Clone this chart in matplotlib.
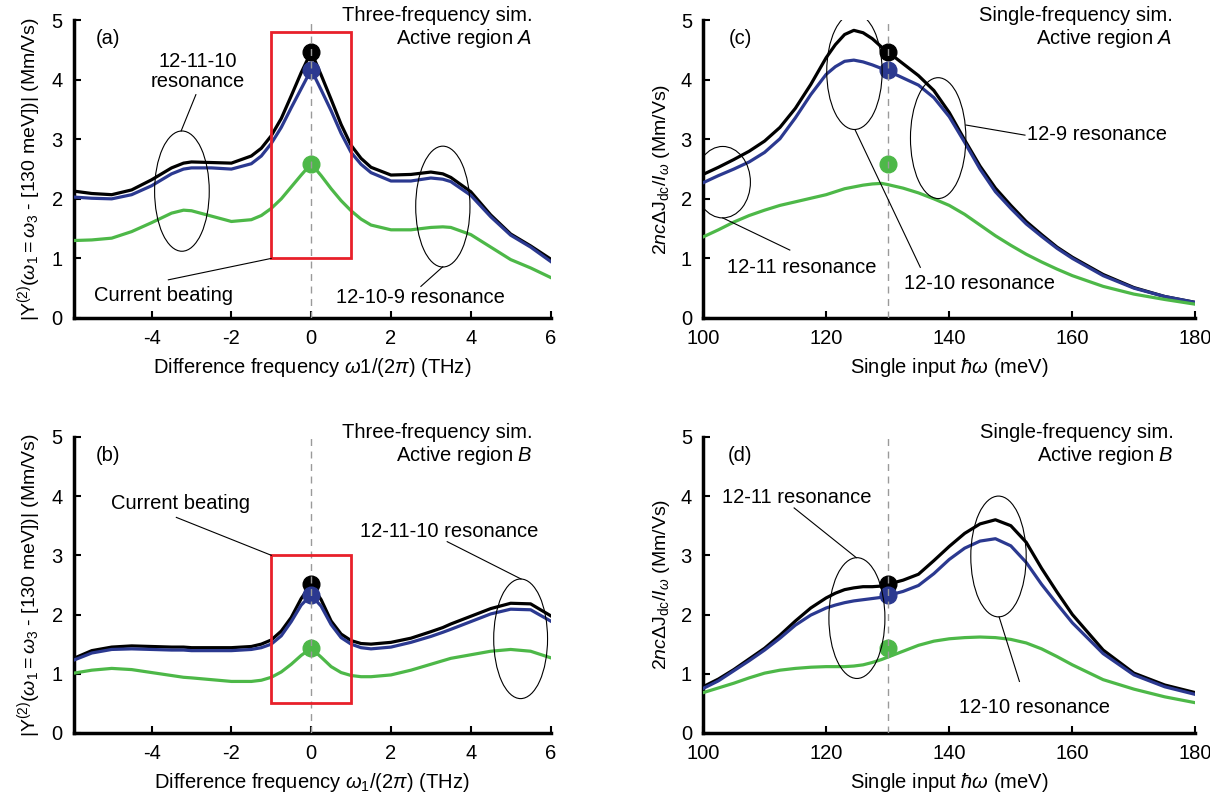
import matplotlib
matplotlib.use('Agg')
import matplotlib.pyplot as plt
from matplotlib.patches import Ellipse, Rectangle

plt.rcParams['font.family'] = ['Liberation Sans', 'DejaVu Sans']
plt.rcParams['mathtext.fontset'] = 'custom'
plt.rcParams['mathtext.rm'] = 'Liberation Sans'
plt.rcParams['mathtext.it'] = 'Liberation Sans:italic'
plt.rcParams['mathtext.bf'] = 'Liberation Sans:bold'
plt.rcParams['axes.unicode_minus'] = False

FS = 14.5

#difference frequency grid (THz), panels (a) and (b)
freq = [-5.95, -5.5, -5, -4.5, -4, -3.5, -3.2, -3, -2.5, -2, -1.5, -1.25, -1,
        -0.75, -0.5, -0.25, 0, 0.25, 0.5, 0.75, 1, 1.25, 1.5, 2, 2.5, 3, 3.3,
        3.5, 4, 4.5, 5, 5.5, 6]

a_black = [2.13, 2.09, 2.07, 2.15, 2.32, 2.52, 2.60, 2.62, 2.61, 2.60, 2.72, 2.85, 3.06,
           3.35, 3.73, 4.12, 4.47, 4.08, 3.67, 3.25, 2.90, 2.68, 2.53, 2.40, 2.41, 2.45, 2.42,
           2.36, 2.12, 1.73, 1.41, 1.21, 0.99]
a_blue = [2.03, 2.01, 2.00, 2.07, 2.22, 2.42, 2.50, 2.52, 2.52, 2.50, 2.59, 2.72, 2.93,
          3.20, 3.53, 3.85, 4.17, 3.83, 3.48, 3.10, 2.78, 2.58, 2.44, 2.30, 2.30, 2.35, 2.33,
          2.29, 2.06, 1.70, 1.39, 1.19, 0.95]
a_green = [1.30, 1.31, 1.34, 1.45, 1.60, 1.76, 1.81, 1.80, 1.71, 1.62, 1.65, 1.72, 1.84,
           2.00, 2.20, 2.40, 2.59, 2.39, 2.17, 1.97, 1.80, 1.66, 1.56, 1.48, 1.48, 1.52, 1.53,
           1.52, 1.40, 1.19, 0.98, 0.84, 0.68]

b_black = [1.26, 1.39, 1.45, 1.47, 1.46, 1.45, 1.45, 1.44, 1.44, 1.44, 1.46, 1.50, 1.57,
           1.72, 1.95, 2.27, 2.51, 2.25, 1.89, 1.67, 1.56, 1.51, 1.50, 1.53, 1.60, 1.71, 1.78,
           1.84, 1.97, 2.10, 2.19, 2.18, 1.98]
b_blue = [1.23, 1.35, 1.41, 1.42, 1.41, 1.40, 1.40, 1.39, 1.39, 1.39, 1.41, 1.44, 1.50,
          1.64, 1.88, 2.16, 2.33, 2.14, 1.83, 1.61, 1.50, 1.44, 1.42, 1.45, 1.53, 1.63, 1.70,
          1.75, 1.88, 2.01, 2.09, 2.08, 1.89]
b_green = [1.01, 1.06, 1.09, 1.07, 1.02, 0.97, 0.94, 0.93, 0.90, 0.87, 0.87, 0.89, 0.94,
           1.03, 1.16, 1.31, 1.43, 1.28, 1.12, 1.02, 0.97, 0.95, 0.95, 0.98, 1.06, 1.16, 1.22,
           1.26, 1.32, 1.38, 1.41, 1.38, 1.27]

#single input photon energy grid (meV), panels (c) and (d)
energy = [100, 102.5, 105, 107.5, 110, 112.5, 115, 117.5, 120, 121.5, 123, 124.5, 126,
          127.5, 129, 130, 132.5, 135, 137.5, 140, 142.5, 145, 147.5, 150, 152.5, 155,
          157.5, 160, 165, 170, 175, 180]

c_black = [2.41, 2.53, 2.66, 2.80, 2.97, 3.20, 3.52, 3.92, 4.37, 4.59, 4.76, 4.83, 4.79,
           4.69, 4.55, 4.47, 4.27, 4.07, 3.82, 3.45, 2.99, 2.55, 2.18, 1.89, 1.62, 1.40,
           1.19, 1.02, 0.73, 0.51, 0.36, 0.26]
c_blue = [2.27, 2.39, 2.50, 2.62, 2.78, 3.01, 3.36, 3.75, 4.09, 4.22, 4.31, 4.33, 4.30,
          4.25, 4.19, 4.15, 4.03, 3.91, 3.70, 3.38, 2.95, 2.50, 2.12, 1.84, 1.58, 1.37,
          1.17, 1.00, 0.71, 0.50, 0.36, 0.26]
c_green = [1.36, 1.48, 1.61, 1.72, 1.81, 1.89, 1.95, 2.01, 2.07, 2.12, 2.17, 2.20, 2.23,
           2.25, 2.26, 2.24, 2.18, 2.10, 2.00, 1.89, 1.74, 1.56, 1.38, 1.22, 1.07, 0.94,
           0.82, 0.71, 0.53, 0.40, 0.31, 0.23]

d_black = [0.78, 0.91, 1.07, 1.25, 1.43, 1.65, 1.89, 2.11, 2.28, 2.36, 2.42, 2.45, 2.47,
           2.47, 2.48, 2.51, 2.58, 2.68, 2.91, 3.15, 3.37, 3.53, 3.60, 3.50, 3.22, 2.78,
           2.38, 2.00, 1.40, 1.01, 0.81, 0.68]
d_blue = [0.75, 0.88, 1.05, 1.22, 1.40, 1.60, 1.82, 1.99, 2.11, 2.16, 2.20, 2.23, 2.25,
          2.27, 2.29, 2.32, 2.39, 2.49, 2.69, 2.93, 3.12, 3.24, 3.28, 3.16, 2.88, 2.51,
          2.18, 1.86, 1.34, 0.98, 0.78, 0.65]
d_green = [0.68, 0.76, 0.84, 0.93, 1.01, 1.06, 1.09, 1.11, 1.12, 1.12, 1.12, 1.13, 1.15,
           1.19, 1.24, 1.28, 1.38, 1.48, 1.55, 1.59, 1.61, 1.62, 1.61, 1.58, 1.52, 1.42,
           1.29, 1.15, 0.90, 0.74, 0.61, 0.51]

#three-frequency values at the 130 meV point (black, blue, green)
dots_A = [4.47, 4.17, 2.59]
dots_B = [2.51, 2.33, 1.43]

colors = ['black', '#2b3990', '#4db848']


def style_axis(ax, xlim, xticks):
    ax.set_xlim(xlim)
    ax.set_ylim(0, 5)
    ax.set_xticks(xticks)
    ax.set_yticks([0, 1, 2, 3, 4, 5])
    ax.spines['top'].set_visible(False)
    ax.spines['right'].set_visible(False)
    ax.spines['left'].set_linewidth(2.5)
    ax.spines['bottom'].set_linewidth(2.5)
    ax.tick_params(direction='in', length=5, width=1.5, labelsize=FS, pad=8)


def draw_curves(ax, x, ys, x0, dots):
    for y, c in zip(ys, colors):
        ax.plot(x, y, color=c, lw=2.3, zorder=3, solid_joinstyle='round')
    for v, c in zip(dots, colors):
        ax.plot(x0, v, 'o', color=c, ms=12, zorder=4)
    ax.axvline(x0, color='#9a9a9a', lw=1, ls=(0, (5, 4)), zorder=5)


def ellipse(ax, xy, w, h):
    ax.add_patch(Ellipse(xy, w, h, fill=False, ec='black', lw=0.8, zorder=6))


def leader(ax, p0, p1):
    ax.plot([p0[0], p1[0]], [p0[1], p1[1]], color='black', lw=0.8, zorder=6)


def note(ax, x, y, s, ha='center'):
    ax.text(x, y, s, ha=ha, va='center', fontsize=FS, linespacing=1.05)


def heading(ax, x, line1, line2, y1, y2):
    ax.text(x, y1, line1, ha='right', va='center', fontsize=FS, clip_on=False)
    ax.text(x, y2, line2, ha='right', va='center', fontsize=FS, clip_on=False)


def visualization():
    fig = plt.figure(figsize=(12.1, 8.09), dpi=100)
    ax_a = fig.add_axes([0.061, 0.607, 0.394, 0.368])
    ax_b = fig.add_axes([0.061, 0.094, 0.394, 0.366])
    ax_c = fig.add_axes([0.581, 0.607, 0.407, 0.368])
    ax_d = fig.add_axes([0.581, 0.094, 0.407, 0.366])

    ylab_y = r'$|\mathrm{Y}^{(2)}(\omega_1 = \omega_3$ - [130 meV])$|$ (Mm/Vs)'
    ylab_j = r'$2nc\Delta\mathrm{J}_{\mathrm{dc}}/I_\omega$ (Mm/Vs)'

    #(a) three-frequency, active region A
    style_axis(ax_a, (-5.95, 6), [-4, -2, 0, 2, 4, 6])
    draw_curves(ax_a, freq, [a_black, a_blue, a_green], 0, dots_A)
    ax_a.add_patch(Rectangle((-1, 1), 2, 3.8, fill=False, ec='#e8202a', lw=2, zorder=6))
    ellipse(ax_a, (-3.24, 2.13), 1.37, 2.02)
    ellipse(ax_a, (3.3, 1.87), 1.36, 2.03)
    note(ax_a, -2.85, 4.14, '12-11-10\nresonance')
    leader(ax_a, (-2.89, 3.75), (-3.26, 3.14))
    note(ax_a, -3.7, 0.37, 'Current beating')
    leader(ax_a, (-3.58, 0.64), (-1.0, 1.0))
    note(ax_a, 2.75, 0.35, '12-10-9 resonance')
    leader(ax_a, (2.75, 0.53), (3.3, 0.86))
    note(ax_a, -5.1, 4.69, '(a)')
    heading(ax_a, 5.55, 'Three-frequency sim.', r'Active region $A$', 5.08, 4.69)
    ax_a.set_xlabel(r'Difference frequency $\omega$1/(2$\pi$) (THz)', fontsize=FS, labelpad=6)
    ax_a.set_ylabel(ylab_y, fontsize=14, labelpad=6)

    #(b) three-frequency, active region B
    style_axis(ax_b, (-5.95, 6), [-4, -2, 0, 2, 4, 6])
    draw_curves(ax_b, freq, [b_black, b_blue, b_green], 0, dots_B)
    ax_b.add_patch(Rectangle((-1, 0.5), 2, 2.5, fill=False, ec='#e8202a', lw=2, zorder=6))
    ellipse(ax_b, (5.25, 1.59), 1.35, 2.02)
    note(ax_b, -3.28, 3.88, 'Current beating')
    leader(ax_b, (-3.38, 3.64), (-1.0, 3.0))
    note(ax_b, 3.45, 3.41, '12-11-10 resonance')
    leader(ax_b, (3.41, 3.23), (5.26, 2.6))
    note(ax_b, -5.1, 4.69, '(b)')
    heading(ax_b, 5.56, 'Three-frequency sim.', r'Active region $B$', 5.08, 4.69)
    ax_b.set_xlabel(r'Difference frequency $\omega_1$/(2$\pi$) (THz)', fontsize=FS, labelpad=6)
    ax_b.set_ylabel(ylab_y, fontsize=14, labelpad=6)

    #(c) single-frequency, active region A
    style_axis(ax_c, (100, 180), [100, 120, 140, 160, 180])
    draw_curves(ax_c, energy, [c_black, c_blue, c_green], 130, dots_A)
    ellipse(ax_c, (103.2, 2.28), 9, 1.2)
    ellipse(ax_c, (124.6, 4.14), 9, 1.95)
    ellipse(ax_c, (138.2, 3.02), 9, 2.03)
    note(ax_c, 152.6, 3.08, '12-9 resonance', ha='left')
    leader(ax_c, (142.7, 3.24), (152.3, 3.07))
    note(ax_c, 116, 0.85, '12-11 resonance')
    leader(ax_c, (103.2, 1.68), (114.1, 1.14))
    note(ax_c, 144.9, 0.58, '12-10 resonance')
    leader(ax_c, (124.7, 3.16), (135.3, 0.85))
    note(ax_c, 106, 4.69, '(c)')
    heading(ax_c, 176.3, 'Single-frequency sim.', r'Active region $A$', 5.08, 4.69)
    ax_c.set_xlabel(r'Single input $\hbar\omega$ (meV)', fontsize=FS, labelpad=6)
    ax_c.set_ylabel(ylab_j, fontsize=14, labelpad=6)

    #(d) single-frequency, active region B
    style_axis(ax_d, (100, 180), [100, 120, 140, 160, 180])
    draw_curves(ax_d, energy, [d_black, d_blue, d_green], 130, dots_B)
    ellipse(ax_d, (125, 1.94), 9.1, 2.04)
    ellipse(ax_d, (148, 2.98), 9, 2.04)
    note(ax_d, 115.3, 3.97, '12-11 resonance')
    leader(ax_d, (114.8, 3.80), (124.9, 2.96))
    note(ax_d, 153.8, 0.43, '12-10 resonance')
    leader(ax_d, (148.1, 1.96), (151.4, 0.87))
    note(ax_d, 106, 4.69, '(d)')
    heading(ax_d, 176.5, 'Single-frequency sim.', r'Active region $B$', 5.08, 4.69)
    ax_d.set_xlabel(r'Single input $\hbar\omega$ (meV)', fontsize=FS, labelpad=6)
    ax_d.set_ylabel(ylab_j, fontsize=14, labelpad=6)

    fig.savefig('out.png', dpi=100)


if __name__ == "__main__":
    visualization()
